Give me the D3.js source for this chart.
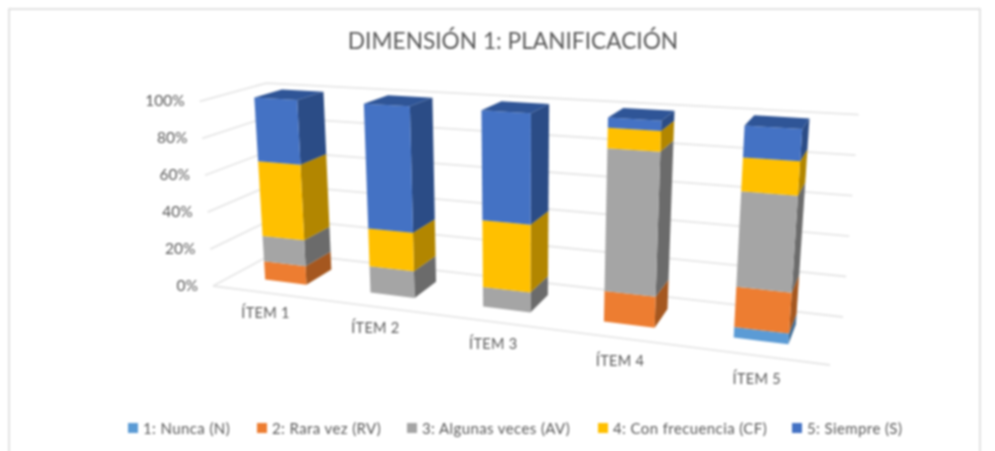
<!DOCTYPE html>
<html><head><meta charset="utf-8">
<script src="https://cdn.jsdelivr.net/npm/d3@7/dist/d3.min.js"></script>
<style>html,body{margin:0;padding:0;background:#fff}svg{display:block;font-family:Lato,"Noto Sans",sans-serif}</style>
</head><body><svg id="c" width="995" height="451"></svg>
<script>
const items = ["ÍTEM 1","ÍTEM 2","ÍTEM 3","ÍTEM 4","ÍTEM 5"];
const seriesNames = ["1: Nunca (N)","2: Rara vez (RV)","3: Algunas veces (AV)","4: Con frecuencia (CF)","5: Siempre (S)"];
const nunca = [0,0,0,0,5];
const rara = [10,0,0,15,19];
const algunas = [14,14,10,70,45];
const frecuencia = [41,20,34,10,16];
const siempre = [35,66,56,5,15];
const ticks = [0,0.2,0.4,0.6,0.8,1];
const front = ["#5B9BD5","#ED7D31","#A5A5A5","#FFC000","#4472C4"];
const side = ["#3F6C95","#A5571F","#6B6B6B","#B28600","#2B4C86"];
const topc = ["#4A80B0","#BE6427","#848484","#CC9A00","#2F5597"];

const floorQ=[[213,286],[830,365],[843,317],[276,252]];
const vp=[519,4518];
function quad(q){const [[x0,y0],[x1,y1],[x2,y2],[x3,y3]]=q;
 const dx1=x1-x2,dx2=x3-x2,dx3=x0-x1+x2-x3,dy1=y1-y2,dy2=y3-y2,dy3=y0-y1+y2-y3;
 const den=dx1*dy2-dx2*dy1,g=(dx3*dy2-dx2*dy3)/den,h=(dx1*dy3-dx3*dy1)/den;
 const a=x1-x0+g*x1,b=x3-x0+h*x3,d=y1-y0+g*y1,e=y3-y0+h*y3;
 return (u,v)=>{const w=g*u+h*v+1;return [(a*u+b*v+x0)/w,(d*u+e*v+y0)/w];};}
const pf=quad(floorQ);
const yS=d3.scaleLinear().domain([0,1]).range([0,1]);
const xS=d3.scaleBand().domain(items).range([0,1]).paddingInner(0.6).paddingOuter(0.325);
const zS=d3.scaleLinear().domain([0,1]).range([0.29,0.72]);
function P(u,val,v){const a=pf(u,v),h=(47.7+0.00497*a[0]+0.4767*a[1])*yS(val);
 const dx=vp[0]-a[0],dy=vp[1]-a[1],l=Math.hypot(dx,dy);return [a[0]-dx/l*h,a[1]-dy/l*h];}

const svg=d3.select("#c");
const g=svg.append("g").style("filter","blur(0.8px)");
g.append("rect").attr("x",9).attr("y",9).attr("width",971).attr("height",460).attr("fill","#fff").attr("stroke","#d9d9d9").attr("stroke-width",1.5);
g.append("text").attr("x",513).attr("y",49).attr("text-anchor","middle").attr("font-size",22.7).attr("fill","#595959").text("DIMENSIÓN 1: PLANIFICACIÓN");

const line=d3.line();
const grid=g.append("g").attr("fill","none").attr("stroke","#e6e6e6").attr("stroke-width",1.8);
ticks.forEach(t=>grid.append("path").attr("d",line([P(0,t,0),P(0,t,1),P(1,t,1)])));
grid.append("path").attr("d",line([P(0,0,0),P(1,0,0)]));

g.selectAll(".tick").data(ticks).join("text").attr("class","tick")
 .attr("x",t=>P(0,t,0)[0]-15)
 .attr("y",t=>P(0,t,0)[1]+4.5).attr("text-anchor","end").attr("font-size",15.5).attr("fill","#595959").text(t=>d3.format(".0%")(t));

const rows=items.map((it,i)=>({item:it,0:nunca[i],1:rara[i],2:algunas[i],3:frecuencia[i],4:siempre[i]}));
const stack=d3.stack().keys([0,1,2,3,4]).offset(d3.stackOffsetExpand)(rows);
items.forEach((it,i)=>{
 const u0=xS(it),u1=u0+xS.bandwidth(),v0=zS(0),v1=zS(1);
 const bar=g.append("g");
 let last=null;
 stack.forEach((s,k)=>{const [a,b]=s[i]; if(b-a<=0)return; last=k;
  bar.append("path").attr("fill",side[k]).attr("d",line([P(u1,a,v0),P(u1,a,v1),P(u1,b,v1),P(u1,b,v0)])+"Z");
  bar.append("path").attr("fill",front[k]).attr("d",line([P(u0,a,v0),P(u1,a,v0),P(u1,b,v0),P(u0,b,v0)])+"Z");
 });
 bar.append("path").attr("fill",topc[last]).attr("d",line([P(u0,1,v0),P(u1,1,v0),P(u1,1,v1),P(u0,1,v1)])+"Z");
 const lab=P(u0+0.09-0.04*u0,0,-0.42);
 g.append("text").attr("x",lab[0]).attr("y",lab[1]+5).attr("text-anchor","middle").attr("font-size",14.5).attr("letter-spacing",0.3).attr("fill","#595959").text(it);
});

const legX=d3.scaleOrdinal().domain(seriesNames).range([128,257,407,598,792]);
const leg=g.selectAll(".leg").data(seriesNames).join("g").attr("transform",d=>`translate(${legX(d)},423)`);
leg.append("rect").attr("width",10).attr("height",10).attr("fill",(d,i)=>front[i]);
leg.append("text").attr("x",15).attr("y",10.5).attr("font-size",15).attr("letter-spacing",0.4).attr("fill","#595959").text(d=>d);
</script></body></html>
